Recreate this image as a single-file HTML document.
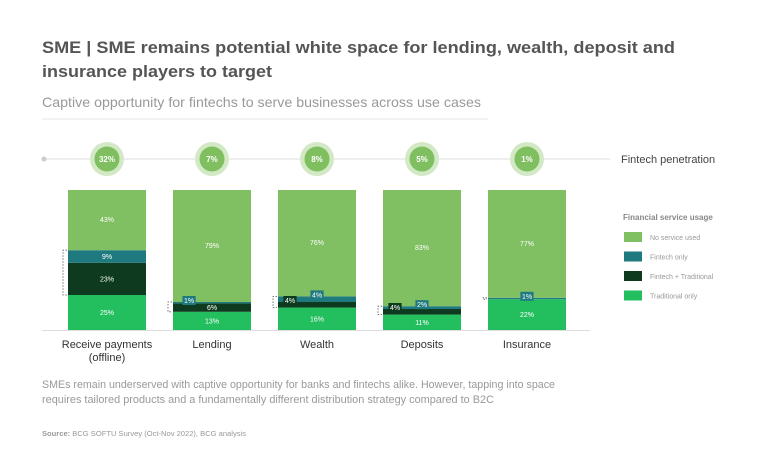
<!DOCTYPE html>
<html><head><meta charset="utf-8"><style>
html,body{margin:0;padding:0;background:#fff;}
svg{display:block;font-family:"Liberation Sans",sans-serif;}
</style></head><body>
<svg id="chart" width="768" height="471" viewBox="0 0 768 471">
<text x="42" y="53" font-size="17" font-weight="bold" fill="#555" textLength="633" lengthAdjust="spacingAndGlyphs">SME | SME remains potential white space for lending, wealth, deposit and</text>
<text x="42" y="77" font-size="17" font-weight="bold" fill="#555" textLength="230" lengthAdjust="spacingAndGlyphs">insurance players to target</text>
<text x="42" y="107" font-size="14" fill="#999" textLength="439" lengthAdjust="spacingAndGlyphs">Captive opportunity for fintechs to serve businesses across use cases</text>
<line x1="42" y1="119" x2="488" y2="119" stroke="#eee" stroke-width="1.5"/>
<line x1="44" y1="159" x2="610" y2="159" stroke="#ddd" stroke-width="1"/>
<circle cx="44" cy="159" r="2.5" fill="#ccc"/>
<text x="621" y="163" font-size="11" fill="#444">Fintech penetration</text>
<line x1="42" y1="330.5" x2="590" y2="330.5" stroke="#ddd"/>
<g id="bars"></g>
<text x="623" y="220" font-size="8" fill="#888" font-weight="bold">Financial service usage</text>
<g id="legend"></g>
<text x="42" y="388" font-size="11" fill="#999" textLength="513" lengthAdjust="spacingAndGlyphs">SMEs remain underserved with captive opportunity for banks and fintechs alike. However, tapping into space</text>
<text x="42" y="403" font-size="11" fill="#999" textLength="452" lengthAdjust="spacingAndGlyphs">requires tailored products and a fundamentally different distribution strategy compared to B2C</text>
<text x="42" y="436" font-size="7.5" fill="#999" textLength="204" lengthAdjust="spacingAndGlyphs"><tspan font-weight="bold">Source:</tspan> BCG SOFTU Survey (Oct-Nov 2022), BCG analysis</text>
</svg>
<script>
const categories = ["Receive payments|(offline)", "Lending", "Wealth", "Deposits", "Insurance"];
const penetration = [32, 7, 8, 5, 1];
const traditionalOnly = [25, 13, 16, 11, 22];
const fintechTraditional = [23, 6, 4, 4, 0];
const fintechOnly = [9, 1, 4, 2, 1];
const noService = [43, 79, 76, 83, 77];
const seriesNames = ["No service used", "Fintech only", "Fintech + Traditional", "Traditional only"];

const NS = "http://www.w3.org/2000/svg";
const colors = {none:"#80bf62", fin:"#1e7a7e", ft:"#0e3b1f", trad:"#23bf5f"};
const x0 = 68, pitch = 105, bw = 78, yBase = 330, yTop = 190;
const yScale = v => (yBase - yTop) * v / 100;
const g = document.getElementById("bars");
function mk(tag, attrs, parent){const e=document.createElementNS(NS,tag);for(const k in attrs)e.setAttribute(k,attrs[k]);(parent||g).appendChild(e);return e;}

categories.forEach((c, i) => {
  const x = x0 + i * pitch, cx = x + bw / 2;
  let y = yBase;
  const segs = [
    ["trad", traditionalOnly[i], "traditional-only"],
    ["ft", fintechTraditional[i], "fintech-traditional"],
    ["fin", fintechOnly[i], "fintech-only"]
  ];
  const segY = {};
  segs.forEach(([k, v, nm]) => {
    const h = yScale(v);
    y -= h;
    segY[k] = [y, h];
    const r = mk("rect", {x: x, y: y, width: bw, height: h, fill: colors[k]});
    
    
  });
  const rn = mk("rect", {x: x, y: yTop, width: bw, height: y - yTop, fill: colors.none});
  
  
  const yNoTop = yTop, yNoBot = y;
  function lbl(tx, ty, t, anchor, bg, nm){
    if (bg) {
      const w = t.length * 4.6 + 4;
      const bx = anchor === "middle" ? tx - w/2 : tx - 2;
      const br = mk("rect", {x: bx, y: ty - 7, width: w, height: 9, fill: bg});
      
      
    }
    const te = mk("text", {x: tx, y: ty, "font-size": 7, fill: "#fff", "text-anchor": anchor});
    te.textContent = t;
    
    
  }
  const small = fintechOnly[i] + fintechTraditional[i] < 15;
  lbl(cx, (yNoTop + yNoBot) / 2 + 2, noService[i] + "%", "middle", null, 'label-no-service-' + i);
  lbl(cx, segY.trad[0] + segY.trad[1] / 2 + 2.5, traditionalOnly[i] + "%", "middle", null, 'label-traditional-' + i);
  if (!small) {
    lbl(cx, segY.fin[0] + segY.fin[1] / 2 + 2.5, fintechOnly[i] + "%", "middle", null, 'label-fintech-only-' + i);
    lbl(cx, segY.ft[0] + segY.ft[1] / 2 + 2.5, fintechTraditional[i] + "%", "middle", null, 'label-fintech-traditional-' + i);
  } else {
    const finOff = (i === 1) ? -cx + x + 16 : 0;
    lbl(cx + finOff, segY.fin[0] + 1, fintechOnly[i] + "%", "middle", colors.fin, 'label-fintech-only-' + i);
    if (fintechTraditional[i] > 0) {
      if (i === 1) lbl(cx, segY.ft[0] + segY.ft[1] / 2 + 2.5, fintechTraditional[i] + "%", "middle", null, 'label-fintech-traditional-' + i);
      else lbl(x + 12, segY.ft[0] + 1, fintechTraditional[i] + "%", "middle", colors.ft, 'label-fintech-traditional-' + i);
    }
  }
  const bt = segY.fin[0], bb = segY.trad[0];
  const br = mk("path", {d: `M${x-1},${bt} H${x-5} V${bb} H${x-1}`, fill: "none", stroke: "#555", "stroke-width": 0.8, "stroke-dasharray": "1.5,1.5"});
  
  
  const o = mk("circle", {cx: cx, cy: 159, r: 17, fill: "#d3e9c6"});
  
  
  const inn = mk("circle", {cx: cx, cy: 159, r: 12.5, fill: "#7fbf60"});
  
  
  const pt = mk("text", {x: cx, y: 162, "font-size": 8, "font-weight": "bold", fill: "#fff", "text-anchor": "middle"});
  pt.textContent = penetration[i] + "%";
  
  
  c.split("|").forEach((line, j) => {
    const ct = mk("text", {x: cx, y: 348 + j * 13, "font-size": 11, fill: "#333", "text-anchor": "middle"});
    ct.textContent = line;
    
    
  });
});

const lg = document.getElementById("legend");
const lcols = [colors.none, colors.fin, colors.ft, colors.trad];
seriesNames.forEach((n, i) => {
  const y = 232 + i * 19.5;
  const r = mk("rect", {x: 624, y: y, width: 18, height: 10, fill: lcols[i]}, lg);
  
  
  const t = mk("text", {x: 650, y: y + 8, "font-size": 7, fill: "#999"}, lg);
  t.textContent = n;
  
  
});
</script>
</body></html>
